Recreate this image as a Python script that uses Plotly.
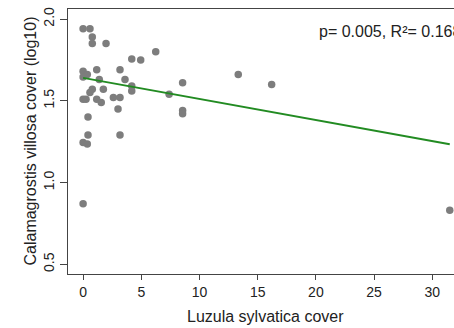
import plotly.graph_objects as go

# Luzula sylvatica cover (x) vs. log10 Calamagrostis villosa cover (y)
luzula_cover = [0, 0.59, 0.79, 0.79, 1.97, 6.24, 4.18, 4.95, 0, 0.36, 0, 1.17, 3.17,
                1.39, 3.6, 4.18, 4.18, 0.79, 0.59, 1.74, 8.55, 8.55, 8.55, 7.39, 0,
                0.25, 1.17, 1.56, 2.6, 3.17, 3.0, 0.42, 0.42, 3.17, 0, 0.36, 0,
                13.33, 16.2, 31.5]
calamagrostis_log = [1.94, 1.94, 1.89, 1.85, 1.85, 1.80, 1.755, 1.75, 1.68, 1.66, 1.645,
                     1.69, 1.69, 1.63, 1.63, 1.59, 1.56, 1.57, 1.55, 1.57, 1.61, 1.44,
                     1.42, 1.54, 1.51, 1.51, 1.51, 1.49, 1.52, 1.52, 1.45, 1.40, 1.29,
                     1.29, 1.245, 1.235, 0.87, 1.66, 1.60, 0.83]

# Linear fit coefficients
fit_intercept = 1.640
fit_slope = -0.0129
fit_x = [min(luzula_cover), max(luzula_cover)]
fit_y = [fit_intercept + fit_slope * v for v in fit_x]

x_ticks = [0, 5, 10, 15, 20, 25, 30]
y_ticks = [0.5, 1.0, 1.5, 2.0]
y_tick_text = ["0.5", "1.0", "1.5", "2.0"]
stats_text = "p= 0.005, R²= 0.168"

font = "Liberation Sans, Arial, sans-serif"
ink = "#222222"
axis_col = "#444444"

fig = go.Figure()
fig.add_trace(go.Scatter(
    x=luzula_cover, y=calamagrostis_log, mode="markers",
    marker=dict(size=7.5, color="#7d7d7d", line=dict(width=0)),
    showlegend=False, cliponaxis=False,
))
fig.add_trace(go.Scatter(
    x=fit_x, y=fit_y, mode="lines",
    line=dict(color="#228B22", width=2),
    showlegend=False,
))

fig.update_layout(
    width=454, height=328,
    margin=dict(l=68, r=0, t=9, b=54),
    paper_bgcolor="white", plot_bgcolor="white",
    font=dict(family=font, size=14, color=ink),
    xaxis=dict(
        range=[-1.297, 31.865], tickvals=x_ticks,
        showgrid=False, zeroline=False,
        showline=True, linecolor=axis_col, linewidth=1, mirror=True,
        ticks="outside", ticklen=5, tickcolor=axis_col,
        tickfont=dict(size=14, color=ink),
    ),
    yaxis=dict(
        range=[0.4406, 2.0612], tickvals=y_ticks, ticktext=y_tick_text,
        tickangle=-90,
        showgrid=False, zeroline=False,
        showline=True, linecolor=axis_col, linewidth=1,
        ticks="outside", ticklen=7, tickcolor=axis_col,
        tickfont=dict(size=14, color=ink),
    ),
    annotations=[
        dict(text="Luzula sylvatica cover", x=15.71, xref="x",
             y=-0.162, yref="paper", xanchor="center", yanchor="middle",
             showarrow=False, font=dict(size=16, color=ink)),
        dict(text="Calamagrostis villosa cover (log10)", textangle=-90,
             x=-0.0984, xref="paper", y=0.5, yref="paper",
             xanchor="center", yanchor="middle",
             showarrow=False, font=dict(size=16, color=ink)),
        dict(text=stats_text, x=20.07, xref="x", y=1.922, yref="y",
             xanchor="left", yanchor="middle",
             showarrow=False, font=dict(size=16, color=ink)),
    ],
)

fig.write_html("out.html")
